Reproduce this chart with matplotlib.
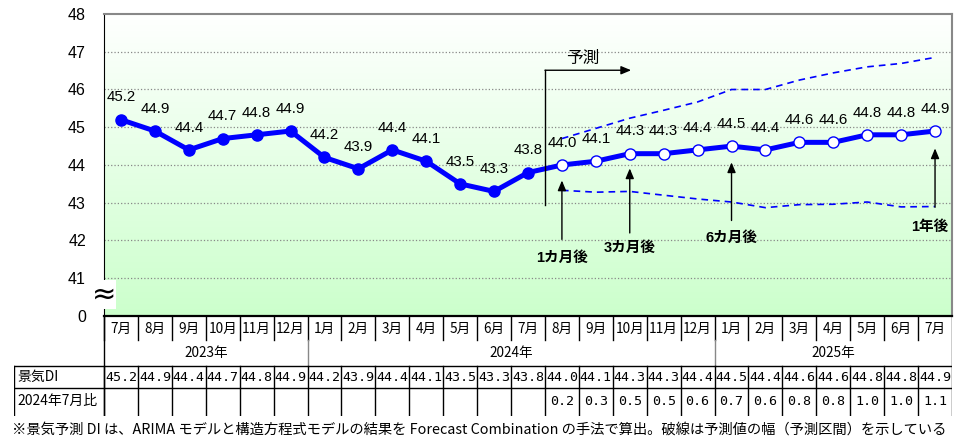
import numpy as np
import matplotlib
matplotlib.use("Agg")
import matplotlib.pyplot as plt
from matplotlib.colors import LinearSegmentedColormap

plt.rcParams['font.family'] = ['Liberation Sans', 'Noto Sans CJK JP', 'DejaVu Sans']

# data
months = ['7月', '8月', '9月', '10月', '11月', '12月',
          '1月', '2月', '3月', '4月', '5月', '6月', '7月', '8月', '9月', '10月', '11月', '12月',
          '1月', '2月', '3月', '4月', '5月', '6月', '7月']
years = ['2023年', '2024年', '2025年']
year_span = [(0, 5), (6, 17), (18, 24)]
di = [45.2, 44.9, 44.4, 44.7, 44.8, 44.9, 44.2, 43.9, 44.4, 44.1, 43.5, 43.3, 43.8,
      44.0, 44.1, 44.3, 44.3, 44.4, 44.5, 44.4, 44.6, 44.6, 44.8, 44.8, 44.9]
n_actual = 13
ratio = ['0.2', '0.3', '0.5', '0.5', '0.6', '0.7', '0.6', '0.8', '0.8', '1.0', '1.0', '1.1']
upper = [44.7, 44.97, 45.24, 45.45, 45.67, 46.0, 46.0, 46.25, 46.44, 46.6, 46.69, 46.85]
lower = [43.33, 43.28, 43.3, 43.2, 43.1, 43.02, 42.87, 42.95, 42.96, 43.02, 42.89, 42.9]
arrow_labels = ['1カ月後', '3カ月後', '6カ月後', '1年後']
arrow_idx = [13, 15, 18, 24]
row_labels = ['景気DI', '2024年7月比']
footnote = ('※景気予測 DI は、ARIMA モデルと構造方程式モデルの結果を Forecast Combination の手法で算出。'
            '破線は予測値の幅（予測区間）を示している')

W, H = 962, 440
fig = plt.figure(figsize=(W / 100, H / 100), dpi=100)


def px_axes(l, t, r, b):
    return fig.add_axes([l / W, 1 - b / H, (r - l) / W, (b - t) / H])


blue = '#0000ff'
x = np.arange(len(di))
col_w = 848 / 25

# main chart
ax = px_axes(104, 14, 952, 316)
cm = LinearSegmentedColormap.from_list('g', ['#ccffcc', '#ffffff'])
ax.imshow(np.linspace(0, 1, 256).reshape(-1, 1), cmap=cm, origin='lower',
          extent=[-0.5, 24.5, 40, 48], aspect='auto', zorder=0)
ax.set_xlim(-0.5, 24.5)
ax.set_ylim(40, 48)
for v in range(41, 48):
    ax.axhline(v, color='#888888', lw=0.9, ls=':', zorder=1)

ax.plot(x, di, color=blue, lw=3.6, zorder=3)
ax.plot(x[:n_actual], di[:n_actual], 'o', ms=8, color=blue, zorder=4)
ax.plot(x[n_actual:], di[n_actual:], 'o', ms=8, mfc='white', mec=blue, mew=1, zorder=4)
ax.plot(x[n_actual:], upper, color=blue, lw=1.2, dashes=(4, 3), zorder=2)
ax.plot(x[n_actual:], lower, color=blue, lw=1.2, dashes=(4, 3), zorder=2)

for i, v in enumerate(di):
    ax.annotate(f'{v:.1f}', (i, v), xytext=(0, 16), textcoords='offset points',
                ha='center', va='center', fontsize=10.8, zorder=5)

# forecast arrows
ap = dict(arrowstyle='-|>,head_length=0.6,head_width=0.25', color='k', lw=1,
          shrinkA=0, shrinkB=0)
arrow_bot = [42.03, 42.2, 42.53, 42.88]
arrow_top = [43.59, 43.91, 44.07, 44.44]
text_y = [41.53, 41.79, 42.06, 42.35]
text_dx = [0, 0, 0, -0.15]
for lab, i, b, t, ty, dx in zip(arrow_labels, arrow_idx, arrow_bot, arrow_top, text_y, text_dx):
    ax.annotate('', xy=(i, t), xytext=(i, b), arrowprops=ap, zorder=5)
    ax.text(i + dx, ty, lab, ha='center', va='center', fontsize=10.5,
            fontweight='bold', zorder=5)

ax.plot([12.5, 12.5], [42.93, 46.51], color='k', lw=1, zorder=5)
ax.annotate('', xy=(15.04, 46.51), xytext=(12.5, 46.51), arrowprops=ap, zorder=5)
ax.text(13.62, 46.83, '予測', ha='center', va='center', fontsize=12, zorder=5)

ax.set_xticks([])
ax.set_yticks(range(40, 49))
ax.set_yticklabels(['0'] + [str(v) for v in range(41, 49)], fontsize=11.5)
ax.tick_params(axis='y', length=0, pad=13)
ax.spines['left'].set_color('k')
ax.spines['bottom'].set_color('k')
ax.spines['bottom'].set_linewidth(1.6)
ax.spines['top'].set_color('#888888')
ax.spines['right'].set_color('#888888')
ax.spines['top'].set_linewidth(1.5)
ax.spines['right'].set_linewidth(1.5)
ax.text(-0.5, 40.57, '≈', ha='center', va='center', fontsize=21, zorder=6,
        family=['DejaVu Sans'],
        bbox=dict(facecolor='white', edgecolor='none', pad=0.2), clip_on=False)

# table
tb = px_axes(14, 316, 952, 416)
tb.set_xlim(-0.5 - 90 / col_w, 24.5)
tb.set_ylim(100, 0)
tb.axis('off')
x0 = -0.5 - 90 / col_w
lk = dict(color='k', lw=1)
for i in range(len(months)):
    tb.plot([i - 0.5, i - 0.5], [0, 24], **lk)
    tb.text(i, 12.5, months[i], ha='center', va='center', fontsize=9.8,
            family=['Noto Sans CJK JP'])
tb.plot([-0.5, -0.5], [0, 100], **lk)
tb.plot([24.5, 24.5], [0, 100], **lk)
for k, (a, b) in enumerate(year_span):
    if k > 0:
        tb.plot([a - 0.5, a - 0.5], [24, 50], color='#888888', lw=1)
    tb.text((a + b) / 2, 37, years[k], ha='center', va='center', fontsize=9.8,
            family=['Noto Sans CJK JP'])
tb.plot([x0, 24.5], [50, 50], **lk)
tb.plot([x0, 24.5], [72, 72], **lk)
tb.plot([x0, x0], [50, 100], **lk)
for i in range(len(months)):
    tb.plot([i - 0.5, i - 0.5], [50, 100], **lk)
    tb.text(i, 61, f'{di[i]:.1f}', ha='center', va='center', fontsize=9.6,
            family=['DejaVu Sans Mono'])
for j, r in enumerate(ratio):
    tb.text(n_actual + j, 85, r, ha='center', va='center', fontsize=9.6,
            family=['DejaVu Sans Mono'])
tb.text(x0 + 3 / col_w, 61, row_labels[0], ha='left', va='center', fontsize=10,
        family=['Noto Sans CJK JP'])
tb.text(x0 + 3 / col_w, 85, row_labels[1], ha='left', va='center', fontsize=10,
        family=['Noto Sans CJK JP'])

fig.text(12 / W, 1 - 430 / H, footnote, ha='left', va='center', fontsize=10.3,
         family=['Noto Sans CJK JP'])

fig.savefig('out.png', dpi=100)
